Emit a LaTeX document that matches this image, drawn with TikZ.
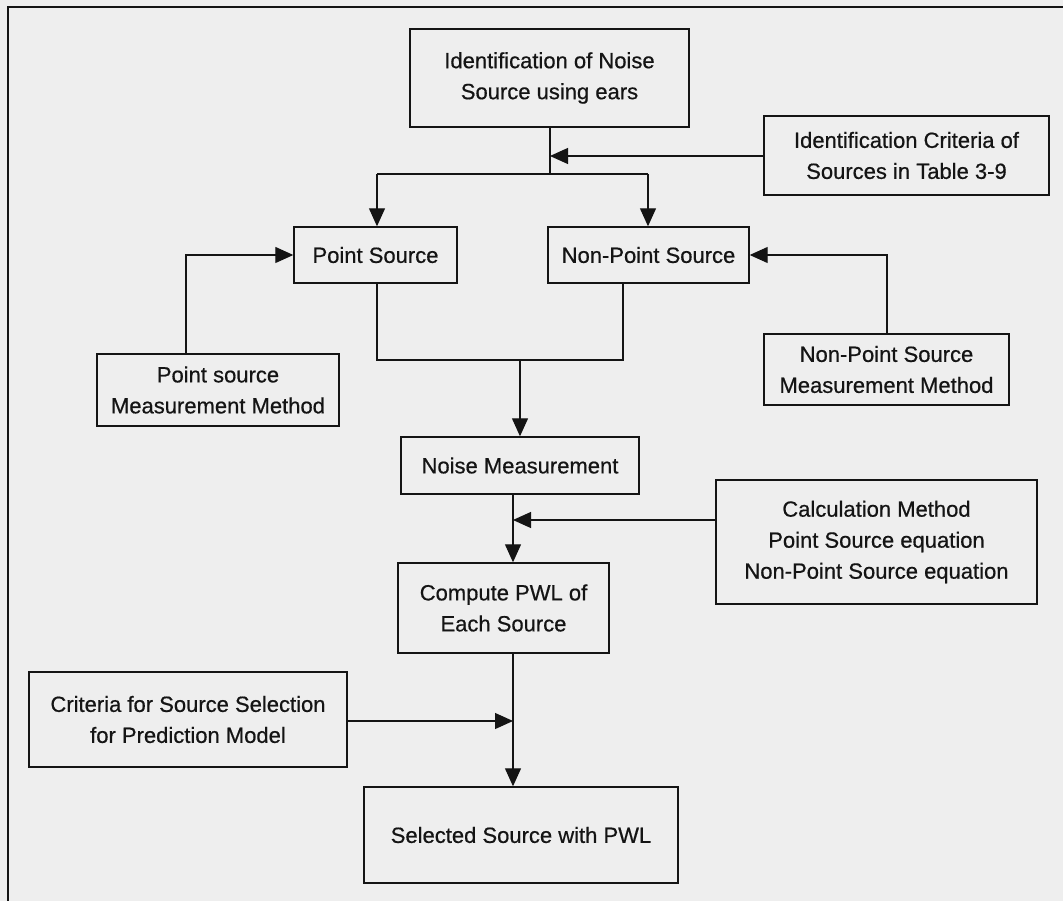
\documentclass[tikz,border=0pt]{standalone}
\usepackage{fontspec}
\setmainfont{Liberation Sans}[FakeBold=0.6]
\usetikzlibrary{arrows.meta}
\definecolor{paper}{RGB}{238,238,238}
\definecolor{ink}{RGB}{20,20,20}
\begin{document}
\begin{tikzpicture}[x=1pt,y=-1pt,
  box/.style={draw=ink,line width=1.4pt,fill=paper,align=center,inner sep=0pt,
    font=\fontsize{22}{31}\selectfont,text=ink},
  link/.style={draw=ink,line width=1.2pt},
  arr/.style={link,-{Triangle[length=18pt,width=16pt]}}]
  % page and outer frame
  \useasboundingbox[fill=paper] (0,0) rectangle (1063,901);
  \draw[ink,line width=2.5pt] (8,910) -- (8,7) -- (1070,7);

  % boxes
  \node[box,minimum width=279pt,minimum height=98pt] (ident) at (549.5,78)
    {Identification of Noise\\Source using ears};
  \node[box,minimum width=285pt,minimum height=79pt] (crit) at (906.5,155.5)
    {Identification Criteria of\\Sources in Table 3-9};
  \node[box,minimum width=163pt,minimum height=56pt] (point) at (375.5,255)
    {Point Source};
  \node[box,minimum width=201pt,minimum height=56pt] (nonpoint) at (648.5,255)
    {Non-Point Source};
  \node[box,minimum width=242pt,minimum height=72pt] (psmm) at (218,390)
    {Point source\\Measurement Method};
  \node[box,minimum width=245pt,minimum height=71pt] (npsmm) at (886.5,369.5)
    {Non-Point Source\\Measurement Method};
  \node[box,minimum width=238pt,minimum height=57pt] (noise) at (520,465.5)
    {Noise Measurement};
  \node[box,minimum width=321pt,minimum height=124pt] (calc) at (876.5,542)
    {Calculation Method\\Point Source equation\\Non-Point Source equation};
  \node[box,minimum width=211pt,minimum height=90pt] (compute) at (503.5,608)
    {Compute PWL of\\Each Source};
  \node[box,minimum width=318pt,minimum height=95pt] (critsel) at (188,719.5)
    {Criteria for Source Selection\\for Prediction Model};
  \node[box,minimum width=314pt,minimum height=96pt] (selected) at (521,835)
    {Selected Source with PWL};

  % junction points
  \coordinate (split) at (550,174);
  \coordinate (critin) at (550,156);
  \coordinate (merge) at (520,360);
  \coordinate (calcin) at (513,520);
  \coordinate (selin) at (513,721);

  % identification splits into the two source types
  \draw[link] (ident.south -| split) -- (split);
  \draw[arr] (crit.west |- critin) -- (critin);
  \draw[link] (377,174) -- (648,174);
  \draw[arr] (377,174) -- (point.north -| 377,0);
  \draw[arr] (648,174) -- (nonpoint.north -| 648,0);

  % measurement methods feed the source boxes
  \draw[arr] (psmm.north -| 186,0) |- (point.west);
  \draw[arr] (npsmm.north -| 887,0) |- (nonpoint.east);

  % both source types merge into the measurement
  \draw[link] (point.south -| 377,0) -- (377,360) -- (623,360)
    -- (nonpoint.south -| 623,0);
  \draw[arr] (merge) -- (noise.north -| merge);

  % measurement to PWL computation
  \draw[arr] (noise.south -| calcin) -- (compute.north -| calcin);
  \draw[arr] (calc.west |- calcin) -- (calcin);

  % PWL computation to selected source
  \draw[arr] (compute.south -| selin) -- (selected.north -| selin);
  \draw[arr] (critsel.east |- selin) -- (selin);
\end{tikzpicture}
\end{document}
